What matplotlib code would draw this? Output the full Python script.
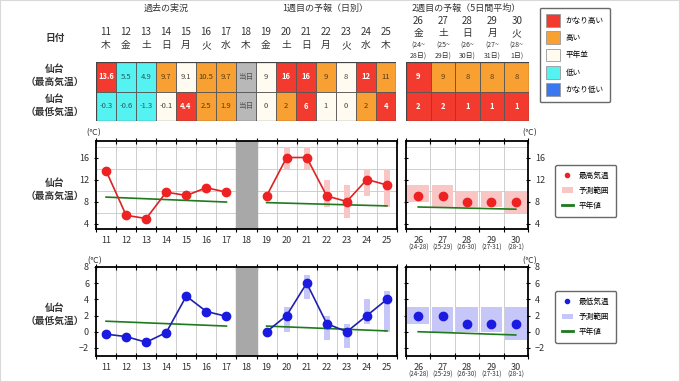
import numpy as np
import matplotlib
matplotlib.use('Agg')
import matplotlib.pyplot as plt
from matplotlib.patches import Rectangle, Patch
from matplotlib.lines import Line2D

plt.rcParams['font.family'] = ['Noto Sans CJK JP', 'DejaVu Sans']

W, H = 680, 382

# --- data ---
days1 = list(range(11, 26))                     # 11..25, 18 = today
weekdays1 = ['木', '金', '土', '日', '月', '火', '水', '木',
             '金', '土', '日', '月', '火', '水', '木']
obs_days = [11, 12, 13, 14, 15, 16, 17]
obs_max = [13.6, 5.5, 4.9, 9.7, 9.1, 10.5, 9.7]
obs_min = [-0.3, -0.6, -1.3, -0.1, 4.4, 2.5, 1.9]
fc_days = [19, 20, 21, 22, 23, 24, 25]
fc_max = [9, 16, 16, 9, 8, 12, 11]
fc_max_lo = [9, 14, 14, 7, 5, 9, 7]
fc_max_hi = [9, 18, 18, 12, 11, 14, 14]
fc_min = [0, 2, 6, 1, 0, 2, 4]
fc_min_lo = [0, 0, 4, -1, -2, 1, 0]
fc_min_hi = [0, 3, 7, 2, 1, 4, 5]
today = 18

w2_days = [26, 27, 28, 29, 30]
w2_weekdays = ['金', '土', '日', '月', '火']
w2_start = ['24', '25', '26', '27', '28']
w2_end = ['28', '29', '30', '31', '1']
w2_max = [9, 9, 8, 8, 8]
w2_max_lo = [8, 7, 7, 7, 6]
w2_max_hi = [11, 11, 10, 10, 10]
w2_min = [2, 2, 1, 1, 1]
w2_min_lo = [1, 0, 0, 0, -1]
w2_min_hi = [3, 3, 3, 3, 3]

# normal values (straight lines, end points)
norm_max_obs = [8.8, 7.9]
norm_max_fc = [7.8, 7.2]
norm_max_w2 = [7.0, 6.6]
norm_min_obs = [1.3, 0.7]
norm_min_fc = [0.7, 0.1]
norm_min_w2 = [0.0, -0.4]

# table categories: H2 かなり高い, H 高い, N 平年並, L 低い, L2 かなり低い
max_cat1 = ['H2', 'L', 'L', 'H', 'N', 'H', 'H', 'T', 'N', 'H2', 'H2', 'H', 'N', 'H2', 'H']
min_cat1 = ['L', 'L', 'L', 'N', 'H2', 'H', 'H', 'T', 'N', 'H', 'H2', 'N', 'N', 'H', 'H2']
w2_max_cat = ['H2', 'H', 'H', 'H', 'H']
w2_min_cat = ['H2', 'H2', 'H2', 'H2', 'H2']

cat_names = ['かなり高い', '高い', '平年並', '低い', 'かなり低い']
cat_keys = ['H2', 'H', 'N', 'L', 'L2']
cat_fc = {'H2': '#f23a2e', 'H': '#f9a032', 'N': '#fffbf0', 'L': '#55f2f2',
          'L2': '#3a78f0', 'T': '#b8b8b8'}
cat_tc = {'H2': 'white', 'H': '#5a3a10', 'N': '#444444', 'L': '#2a5a5a',
          'L2': 'white', 'T': '#555555'}

RED_L, RED_M, PINK = '#dd2222', '#ee2222', '#f9c6c6'
BLUE_L, BLUE_M, LBLUE = '#2020b0', '#1a1ae0', '#c6c6f8'
GREEN = '#1e7a1e'
TXT = '#333333'

fig = plt.figure(figsize=(W / 100, H / 100), dpi=100)
fig.patch.set_facecolor('white')


def px_axes(l, t, r, b):
    return fig.add_axes([l / W, 1 - b / H, (r - l) / W, (b - t) / H])


def ftext(x, y, s, **kw):
    kw.setdefault('color', TXT)
    kw.setdefault('ha', 'center')
    kw.setdefault('va', 'center')
    fig.text(x / W, 1 - y / H, s, **kw)


# --- headers ---
ftext(166, 8, '過去の実況', fontsize=6.5)
ftext(325, 8, '1週目の予報（日別）', fontsize=6.5)
ftext(466, 8, '2週目の予報（5日間平均）', fontsize=6.5)
ftext(55, 38, '日付', fontsize=7, fontweight='bold')
for y, kind in [(76, '最高気温'), (106, '最低気温'), (190, '最高気温'), (315, '最低気温')]:
    ftext(55, y - 7, '仙台', fontsize=7, fontweight='bold')
    ftext(55, y + 6, '（' + kind + '）', fontsize=7, fontweight='bold')


# --- tables ---
def table_row(ax, xs, texts, cats, row):
    for x, s, c in zip(xs, texts, cats):
        ax.add_patch(Rectangle((x - 0.5, row), 1, 1, fc=cat_fc[c], ec='#555555', lw=0.6))
        ax.text(x, row + 0.5, s, ha='center', va='center', fontsize=5.5,
                color=cat_tc[c], fontweight='bold' if c == 'H2' else 'normal')


t1 = px_axes(96, 62, 396, 121)
t1.set_xlim(10.5, 25.5)
t1.set_ylim(2, 0)
t1.axis('off')
max_txt = [f'{v:.1f}' for v in obs_max] + ['当日'] + [str(v) for v in fc_max]
min_txt = [f'{v:.1f}' for v in obs_min] + ['当日'] + [str(v) for v in fc_min]
table_row(t1, days1, max_txt, max_cat1, 0)
table_row(t1, days1, min_txt, min_cat1, 1)
t1.add_patch(Rectangle((10.5, 0), 15, 2, fill=False, ec='#444444', lw=0.9))
for d, wd in zip(days1, weekdays1):
    t1.text(d, -1.02, str(d), ha='center', va='center', fontsize=7, color=TXT, clip_on=False)
    t1.text(d, -0.58, wd, ha='center', va='center', fontsize=7, color=TXT, clip_on=False)

t2 = px_axes(406, 62, 529, 121)
t2.set_xlim(25.5, 30.5)
t2.set_ylim(2, 0)
t2.axis('off')
table_row(t2, w2_days, [str(v) for v in w2_max], w2_max_cat, 0)
table_row(t2, w2_days, [str(v) for v in w2_min], w2_min_cat, 1)
t2.add_patch(Rectangle((25.5, 0), 5, 2, fill=False, ec='#444444', lw=0.9))
for d, wd, a, b in zip(w2_days, w2_weekdays, w2_start, w2_end):
    t2.text(d, -1.39, str(d), ha='center', va='center', fontsize=7, color=TXT, clip_on=False)
    t2.text(d, -0.98, wd, ha='center', va='center', fontsize=7, color=TXT, clip_on=False)
    t2.text(d, -0.54, '(' + a + '~', ha='center', va='center', fontsize=5, color=TXT, clip_on=False)
    t2.text(d, -0.2, b + '日)', ha='center', va='center', fontsize=5, color=TXT, clip_on=False)

# colour legend
cat_handles = [Patch(fc=cat_fc[k], ec='#999999', lw=0.6) for k in cat_keys]
fig.legend(cat_handles, cat_names, loc='upper left', bbox_to_anchor=(536 / W, 1 - 4 / H),
           fontsize=5.5, frameon=True, fancybox=True, edgecolor='#444444',
           handlelength=1.8, handleheight=2.2, labelspacing=0.6, borderpad=0.8,
           handletextpad=0.8)


# --- charts ---
def style(ax, x0, x1, y0, y1, ystep, right=False):
    ax.set_xlim(x0, x1)
    ax.set_ylim(y0, y1)
    ax.set_xticks(np.arange(x0, x1 + 0.01, 1.0))
    ax.set_xticklabels([])
    ax.set_xticks(np.arange(x0 + 0.5, x1, 1.0), minor=True)
    ax.set_yticks(np.arange(np.ceil(y0 / ystep) * ystep, y1 + 0.01, ystep))
    ax.set_yticks(np.arange(np.ceil(y0 / 2) * 2, y1 + 0.01, 2), minor=True)
    ax.grid(True, which='major', axis='x', color='#c8c8c8', lw=0.6)
    ax.grid(True, which='minor', axis='y', color='#c8c8c8', lw=0.6)
    ax.set_axisbelow(True)
    ax.tick_params(axis='x', which='major', direction='inout', length=4, top=True,
                   width=0.8)
    ax.tick_params(axis='x', which='minor', length=0, labelsize=6.5, pad=5, labelcolor=TXT)
    ax.tick_params(axis='y', which='major', length=3, width=0.8, labelsize=6.5,
                   labelcolor=TXT, left=True, right=right, labelleft=not right,
                   labelright=right, direction='inout')
    ax.tick_params(axis='y', which='minor', length=0)
    for s in ax.spines.values():
        s.set_linewidth(1.3)


def week1_panel(ax, obs, norm_o, fc, lo, hi, norm_f, lc, mc, rc, y0, y1, ystep):
    style(ax, 10.5, 25.5, y0, y1, ystep)
    ax.set_xticklabels([str(d) for d in days1], minor=True)
    ax.axvspan(today - 0.5, today + 0.5, color='#a8a8a8', zorder=1.5)
    ax.bar(fc_days, np.array(hi) - np.array(lo), bottom=lo, width=0.3, color=rc, zorder=2)
    ax.plot([obs_days[0], obs_days[-1]], norm_o, color=GREEN, lw=1.2, zorder=3)
    ax.plot([fc_days[0], fc_days[-1]], norm_f, color=GREEN, lw=1.2, zorder=3)
    ax.plot(obs_days, obs, color=lc, lw=1.2, marker='o', ms=6, mfc=mc, mec=mc, zorder=4)
    ax.plot(fc_days, fc, color=lc, lw=1.2, marker='o', ms=6, mfc=mc, mec=mc, zorder=4)


def week2_panel(ax, vals, lo, hi, norm, mc, rc, y0, y1, ystep, name):
    style(ax, 25.5, 30.5, y0, y1, ystep, right=True)
    ax.set_xticklabels([str(d) for d in w2_days], minor=True)
    ax.bar(w2_days, np.array(hi) - np.array(lo), bottom=lo, width=0.88, color=rc, zorder=2)
    ax.plot([w2_days[0], w2_days[-1]], norm, color=GREEN, lw=1.2, zorder=3)
    ax.plot(w2_days, vals, ls='none', marker='o', ms=6, mfc=mc, mec=mc, zorder=4)
    for d, a, b in zip(w2_days, w2_start, w2_end):
        ax.annotate('(' + a + '-' + b + ')', xy=(d, 0), xycoords=('data', 'axes fraction'),
                    xytext=(0, -13.5), textcoords='offset points', ha='center', va='center',
                    fontsize=4.5, color=TXT)
    handles = [Line2D([], [], ls='none', marker='o', ms=3, mfc=mc, mec=mc),
               Patch(fc=rc, ec='none'),
               Line2D([], [], color=GREEN, lw=2)]
    ax.legend(handles, [name, '予測範囲', '平年値'], loc='upper left',
              bbox_to_anchor=(1.19, 0.77), fontsize=5.5, frameon=True, fancybox=True,
              edgecolor='#444444', borderpad=0.9, labelspacing=0.9, handlelength=1.4,
              handletextpad=0.8)


ax1a = px_axes(96, 141, 397, 229)
week1_panel(ax1a, obs_max, norm_max_obs, fc_max, fc_max_lo, fc_max_hi, norm_max_fc,
            RED_L, RED_M, PINK, 3, 19, 4)
ax1b = px_axes(406, 141, 528, 229)
week2_panel(ax1b, w2_max, w2_max_lo, w2_max_hi, norm_max_w2, RED_M, PINK, 3, 19, 4, '最高気温')

ax2a = px_axes(96, 267, 397, 356)
week1_panel(ax2a, obs_min, norm_min_obs, fc_min, fc_min_lo, fc_min_hi, norm_min_fc,
            BLUE_L, BLUE_M, LBLUE, -3, 8, 2)
ax2b = px_axes(406, 267, 528, 356)
week2_panel(ax2b, w2_min, w2_min_lo, w2_min_hi, norm_min_w2, BLUE_M, LBLUE, -3, 8, 2, '最低気温')

for x, y in [(94, 133), (530, 133), (95, 260), (530, 260)]:
    ftext(x, y, '(℃)', fontsize=5.5, family=['DejaVu Sans'])

fig.patches.append(Rectangle((0, 0), 1, 1, transform=fig.transFigure, fill=False,
                             ec='#d8d8d8', lw=1.5))

fig.savefig('out.png', dpi=100)
